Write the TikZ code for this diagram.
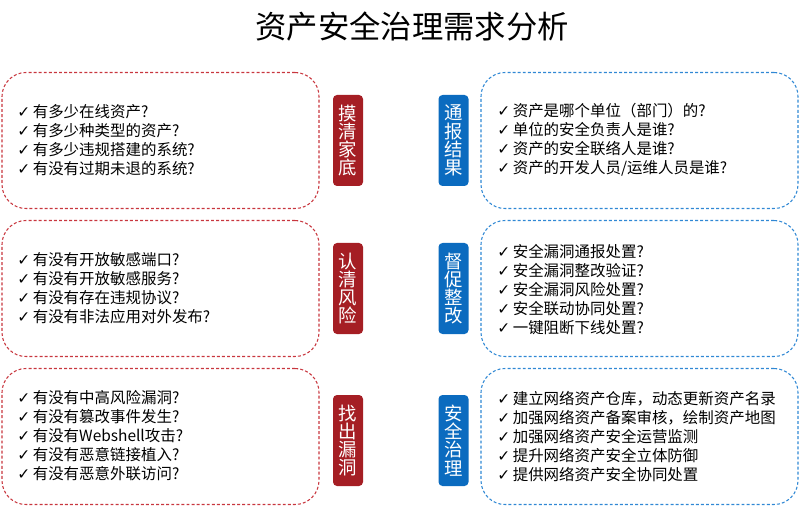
\documentclass[tikz,border=0pt]{standalone}
\usepackage{fontspec}
\setmainfont{Noto Sans CJK SC}
\newfontfamily\symfont{DejaVu Sans}
\definecolor{tagred}{HTML}{A51E24}
\definecolor{linered}{HTML}{C8363E}
\definecolor{tagblue}{HTML}{0B6BBF}
\definecolor{lineblue}{HTML}{3088D4}
\newcommand{\ck}{{\symfont\char"2713}\,}

\begin{document}
\begin{tikzpicture}[x=0.75pt,y=-0.75pt,
  redbox/.style={draw=linered, dash pattern=on 2.2pt off 1.6pt, line width=0.8pt, rounded corners=18pt, minimum width=237.75pt, minimum height=102pt},
  bluebox/.style={redbox, draw=lineblue},
  redtag/.style={fill=tagred, rounded corners=3pt, minimum width=22.5pt, minimum height=68.25pt, inner sep=0pt, text=white, align=center, font=\fontsize{13.8}{13.6}\selectfont},
  bluetag/.style={redtag, fill=tagblue},
  items/.style={anchor=west, inner sep=0pt, align=left, font=\fontsize{11.6}{14.25}\selectfont}]
\useasboundingbox (0,0) rectangle (800,506);
\node[font=\fontsize{23.5}{23.5}\selectfont] (title) at (412,27) {资产安全治理需求分析};

% left column
\node[redbox] (box1) at (160.5,140.5) {};
\node[redbox] (box2) at (160.5,288.5) {};
\node[redbox] (box3) at (160.5,436.5) {};
\node[redtag] (tag1) at (348,140.5) {摸\\清\\家\\底};
\node[redtag] (tag2) at (348,288.5) {认\\清\\风\\险};
\node[redtag] (tag3) at (348,440.5) {找\\出\\漏\\洞};
\node[items] (list1) at (17,140) {\ck 有多少在线资产?\\\ck 有多少种类型的资产?\\\ck 有多少违规搭建的系统?\\\ck 有没有过期未退的系统?};
\node[items] (list2) at (17,288.5) {\ck 有没有开放敏感端口?\\\ck 有没有开放敏感服务?\\\ck 有没有存在违规协议?\\\ck 有没有非法应用对外发布?};
\node[items] (list3) at (17,436) {\ck 有没有中高风险漏洞?\\\ck 有没有篡改事件发生?\\\ck 有没有Webshell攻击?\\\ck 有没有恶意链接植入?\\\ck 有没有恶意外联访问?};

% right column
\node[bluebox] (box4) at (639.5,140.5) {};
\node[bluebox] (box5) at (639.5,288.5) {};
\node[bluebox] (box6) at (639.5,436.5) {};
\node[bluetag] (tag4) at (453.5,140.5) {通\\报\\结\\果};
\node[bluetag] (tag5) at (453.5,288.5) {督\\促\\整\\改};
\node[bluetag] (tag6) at (453.5,440.5) {安\\全\\治\\理};
\node[items] (list4) at (497,140) {\ck 资产是哪个单位（部门）的?\\\ck 单位的安全负责人是谁?\\\ck 资产的安全联络人是谁?\\\ck 资产的开发人员/运维人员是谁?};
\node[items] (list5) at (497,290) {\ck 安全漏洞通报处置?\\\ck 安全漏洞整改验证?\\\ck 安全漏洞风险处置?\\\ck 安全联动协同处置?\\\ck 一键阻断下线处置?};
\node[items] (list6) at (497,437) {\ck 建立网络资产仓库，动态更新资产名录\\\ck 加强网络资产备案审核，绘制资产地图\\\ck 加强网络资产安全运营监测\\\ck 提升网络资产安全立体防御\\\ck 提供网络资产安全协同处置};
\end{tikzpicture}
\end{document}
